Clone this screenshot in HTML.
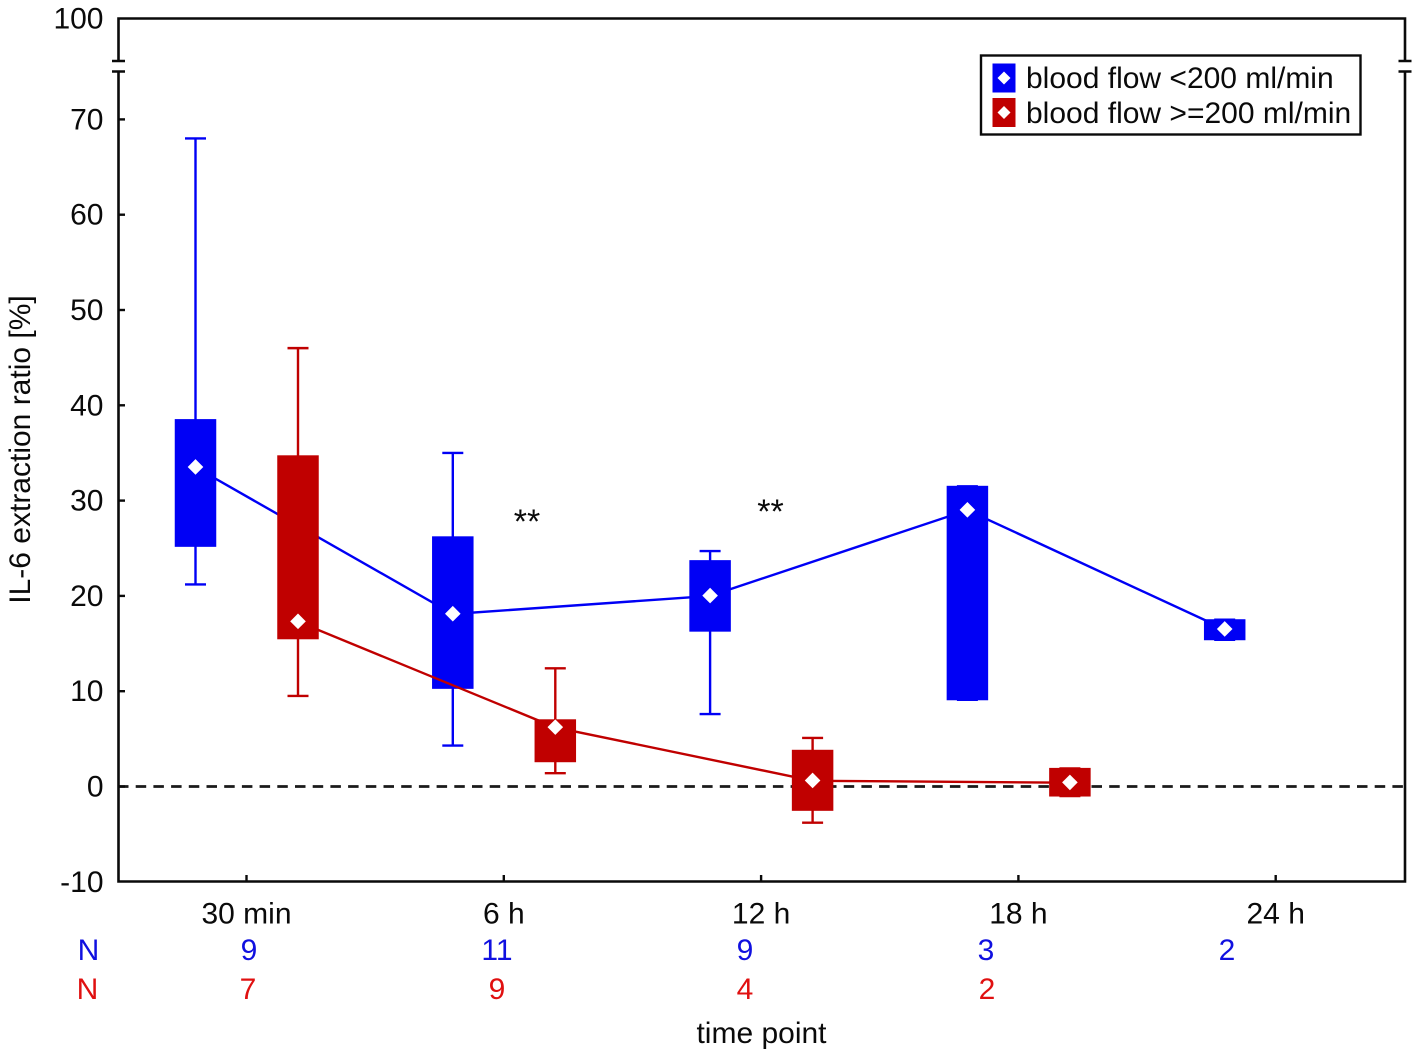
<!DOCTYPE html>
<html lang="en">
<head>
<meta charset="utf-8">
<title>IL-6 extraction ratio over time</title>
<style>
html,body{margin:0;padding:0;background:#fff;}
svg{display:block;}
text{font-family:"Liberation Sans",Arial,sans-serif;font-size:30px;fill:#0a0a0a;}
</style>
</head>
<body>
<svg id="chart" xmlns="http://www.w3.org/2000/svg" width="1418" height="1056" viewBox="0 0 1418 1056"></svg>
<script>
const categories = ['30 min', '6 h', '12 h', '18 h', '24 h'];
const yTickValues = [-10, 0, 10, 20, 30, 40, 50, 60, 70, 100];

const blueMean = [33.5, 18.1, 20.0, 29.0, 16.5];
const blueBoxLow = [25.2, 10.3, 16.3, 9.1, 15.4];
const blueBoxHigh = [38.5, 26.2, 23.7, 31.5, 17.5];
const blueWhiskerLow = [21.2, 4.3, 7.6, 9.1, 15.4];
const blueWhiskerHigh = [68.0, 35.0, 24.7, 31.5, 17.5];
const blueN = [9, 11, 9, 3, 2];

const redMean = [17.3, 6.2, 0.6, 0.4];
const redBoxLow = [15.5, 2.6, -2.5, -1.0];
const redBoxHigh = [34.7, 7.0, 3.8, 1.9];
const redWhiskerLow = [9.5, 1.4, -3.8, -1.0];
const redWhiskerHigh = [46.0, 12.4, 5.1, 1.9];
const redN = [7, 9, 4, 2];

const significanceLabel = '**';
const legendBlue = 'blood flow <200 ml/min';
const legendRed = 'blood flow >=200 ml/min';

const NS = 'http://www.w3.org/2000/svg';
const svg = document.getElementById('chart');
const BLUE = '#0000f5';
const RED = '#c00000';
const AXIS = '#0a0a0a';

function yScale(v) {
  if (v <= 75) return 786.5 - 9.53 * v;
  return 71 + (v - 75) * (18.5 - 71) / 25 - 0;
}
function xCenter(i) {
  return 246.5 + i * 257.3;
}
function make(tag, attrs, parent) {
  const el = document.createElementNS(NS, tag);
  for (const k in attrs) el.setAttribute(k, attrs[k]);
  (parent || svg).appendChild(el);
  return el;
}
function line(x1, y1, x2, y2, stroke, w, parent) {
  return make('line', { x1: x1, y1: y1, x2: x2, y2: y2, stroke: stroke, 'stroke-width': w }, parent);
}
function label(str, x, y, anchor, fill, parent) {
  const t = make('text', { x: x, y: y, 'text-anchor': anchor, fill: fill || '#0a0a0a' }, parent);
  t.style.fill = fill || '#0a0a0a';
  t.textContent = str;
  return t;
}
function diamond(cx, cy, r, parent) {
  return make('polygon', {
    points: (cx - r) + ',' + cy + ' ' + cx + ',' + (cy - r) + ' ' + (cx + r) + ',' + cy + ' ' + cx + ',' + (cy + r),
    fill: '#fff'
  }, parent);
}

/* zero reference line */
const zero = line(118, yScale(0), 1405, yScale(0), '#1a1a1a', 2.8);
zero.setAttribute('stroke-dasharray', '10.5 7.2');



/* series */
function drawSeries(name, color, offset, mean, boxLow, boxHigh, whLow, whHigh) {
  const g = make('g', {});
  
  
  const xs = mean.map(function (_, i) { return xCenter(i) + offset; });
  const pl = make('polyline', {
    points: mean.map(function (m, i) { return xs[i] + ',' + yScale(m); }).join(' '),
    fill: 'none', stroke: color, 'stroke-width': 2.4
  }, g);
  
  
  mean.forEach(function (m, i) {
    const x = xs[i];
    const wh = line(x, yScale(whLow[i]), x, yScale(whHigh[i]), color, 2.4, g);
    
    
    const capLow = line(x - 10.5, yScale(whLow[i]), x + 10.5, yScale(whLow[i]), color, 2.4, g);
    
    
    const capHigh = line(x - 10.5, yScale(whHigh[i]), x + 10.5, yScale(whHigh[i]), color, 2.4, g);
    
    
    const box = make('rect', {
      x: x - 20.75, y: yScale(boxHigh[i]) - 0.5, width: 41.5,
      height: yScale(boxLow[i]) - yScale(boxHigh[i]) + 1, fill: color
    }, g);
    
    
    const d = diamond(x, yScale(m) - 0.3, 7.8, g);
    
    
  });
}
drawSeries('blue', BLUE, -51, blueMean, blueBoxLow, blueBoxHigh, blueWhiskerLow, blueWhiskerHigh);
drawSeries('red', RED, 51.5, redMean, redBoxLow, redBoxHigh, redWhiskerLow, redWhiskerHigh);

/* frame with axis break */
const frame = make('path', {
  d: 'M118.5 61 V18.5 H1405 V61 M118.5 71.5 V881.5 H1405 V71.5',
  fill: 'none', stroke: AXIS, 'stroke-width': 2.6
});


const breakMarks = make('path', {
  d: 'M112 61 H125 M112 71.5 H125 M1398.5 61 H1411.5 M1398.5 71.5 H1411.5',
  fill: 'none', stroke: AXIS, 'stroke-width': 2.4
});



/* y ticks */
yTickValues.forEach(function (v) {
  const y = yScale(v);
  if (v > -10 && v < 100) {
    const t = line(118.5, y, 125, y, AXIS, 2.4);
    
    
  }
  const l = label(String(v), 103.5, y + 10, 'end');
  
  
});

/* x ticks and labels */
categories.forEach(function (c, i) {
  const x = xCenter(i);
  const t = line(x, 875, x, 881.5, AXIS, 2.4);
  
  
  const l = label(c, x, 923.5, 'middle');
  
  
});

/* N rows */
const nRowBlueX = [249, 497, 745, 986, 1227];
const nRowRedX = [248, 497, 745, 987];
const nBlueHead = label('N', 88.5, 960, 'middle', '#1010e0');


const nRedHead = label('N', 87.5, 999, 'middle', '#e01010');


blueN.forEach(function (n, i) {
  const l = label(String(n), nRowBlueX[i], 960, 'middle', '#1010e0');
  
  
});
redN.forEach(function (n, i) {
  const l = label(String(n), nRowRedX[i], 999, 'middle', '#e01010');
  
  
});

/* significance markers */
const sig1 = label(significanceLabel, 527, 533, 'middle');
sig1.style.fontSize = '34px';


const sig2 = label(significanceLabel, 770.5, 523, 'middle');
sig2.style.fontSize = '34px';



/* axis titles */
const xTitle = label('time point', 761.5, 1043, 'middle');


const yTitle = label('IL-6 extraction ratio [%]', 0, 0, 'middle');
yTitle.setAttribute('transform', 'translate(30 449.5) rotate(-90)');



/* legend */
const legend = make('g', {});


const legendBox = make('rect', { x: 981, y: 55.5, width: 379.5, height: 79, fill: '#fff', stroke: AXIS, 'stroke-width': 2.4 }, legend);


const swatchBlue = make('rect', { x: 992.5, y: 63.5, width: 23, height: 29, fill: BLUE }, legend);


const swatchRed = make('rect', { x: 992.5, y: 98, width: 23, height: 29, fill: RED }, legend);


const swatchDiamondBlue = diamond(1004, 78, 6.5, legend);


const swatchDiamondRed = diamond(1004, 112.5, 6.5, legend);


const legendTextBlue = label(legendBlue, 1026, 88, 'start', '#0a0a0a', legend);


const legendTextRed = label(legendRed, 1026, 123, 'start', '#0a0a0a', legend);


</script>
</body>
</html>
